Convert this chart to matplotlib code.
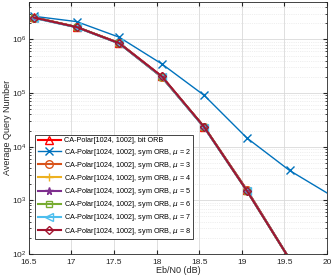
import numpy as np
import matplotlib
matplotlib.use("Agg")
from matplotlib import pyplot as plt

# Eb/N0 points (dB)
ebn0 = [16.56, 17.06, 17.56, 18.06, 18.56, 19.06, 19.56, 20.06]

# average query number per scheme
bit_orb = [2.6e6, 1.7e6, 8.6e5, 2.05e5, 2.3e4, 1.55e3, 80]
sym_mu2 = [2.7e6, 2.15e6, 1.1e6, 3.5e5, 9.0e4, 1.45e4, 3.6e3, 1.2e3]
sym_mu3 = [2.55e6, 1.7e6, 8.5e5, 2.0e5, 2.3e4, 1.55e3, 80]
sym_mu4 = [2.55e6, 1.7e6, 8.5e5, 2.0e5, 2.3e4, 1.5e3, 80]
sym_mu5 = [2.55e6, 1.7e6, 8.5e5, 2.0e5, 2.3e4, 1.5e3, 80]
sym_mu6 = [2.55e6, 1.7e6, 8.5e5, 2.0e5, 2.3e4, 1.5e3, 80]
sym_mu7 = [2.5e6, 1.68e6, 8.4e5, 2.0e5, 2.25e4, 1.5e3, 80]
sym_mu8 = [2.55e6, 1.7e6, 8.5e5, 2.05e5, 2.3e4, 1.5e3, 80]

labels = [
    "CA-Polar[1024, 1002], bit ORB",
    r"CA-Polar[1024, 1002], sym ORB, $\mu$ = 2",
    r"CA-Polar[1024, 1002], sym ORB, $\mu$ = 3",
    r"CA-Polar[1024, 1002], sym ORB, $\mu$ = 4",
    r"CA-Polar[1024, 1002], sym ORB, $\mu$ = 5",
    r"CA-Polar[1024, 1002], sym ORB, $\mu$ = 6",
    r"CA-Polar[1024, 1002], sym ORB, $\mu$ = 7",
    r"CA-Polar[1024, 1002], sym ORB, $\mu$ = 8",
]

# MATLAB-like colours
styles = [
    (bit_orb, (1.0, 0.0, 0.0), "^", 1.5),
    (sym_mu2, (0.0, 0.447, 0.741), "x", 1.0),
    (sym_mu3, (0.85, 0.325, 0.098), "o", 1.5),
    (sym_mu4, (0.929, 0.694, 0.125), "+", 1.5),
    (sym_mu5, (0.494, 0.184, 0.556), "*", 1.5),
    (sym_mu6, (0.466, 0.674, 0.188), "s", 1.5),
    (sym_mu7, (0.301, 0.745, 0.933), "<", 1.5),
    (sym_mu8, (0.635, 0.078, 0.184), "D", 1.5),
]

plt.rcParams["font.family"] = ["Liberation Sans", "DejaVu Sans"]
plt.rcParams["mathtext.fontset"] = "dejavusans"

fig = plt.figure(figsize=(3.32, 2.79), dpi=100)
ax = fig.add_axes([0.087, 0.09, 0.898, 0.903])

for (vals, color, marker, lw), lab in zip(styles, labels):
    ms = 4.5 if marker in ("D", "s") else 5.5
    ax.plot(ebn0[:len(vals)], vals, color=color, marker=marker, lw=lw,
            markersize=ms, markerfacecolor="none", markeredgewidth=1.0,
            label=lab)

ax.set_yscale("log")
ax.set_xlim(16.5, 20)
ax.set_ylim(1e2, 5e6)
ax.set_xticks(np.arange(16.5, 20.01, 0.5))
ax.set_xticklabels(["16.5", "17", "17.5", "18", "18.5", "19", "19.5", "20"])

ax.grid(True, which="major", color="0.85", lw=0.6)
ax.grid(True, which="minor", color="0.88", lw=0.5, ls=":")
ax.tick_params(which="both", direction="in", labelsize=6, colors="0.15",
               top=True, right=True, pad=2)
ax.tick_params(axis="x", pad=3.5)
ax.tick_params(which="major", length=3)
ax.tick_params(which="minor", length=1.5)
for s in ax.spines.values():
    s.set_color("0.15")
    s.set_linewidth(0.6)

ax.set_xlabel("Eb/N0 (dB)", fontsize=6.5, color="0.15", labelpad=0.5)
ax.set_ylabel("Average Query Number", fontsize=6.5, color="0.15", labelpad=0)

leg = ax.legend(loc="lower left", bbox_to_anchor=(0.022, 0.06), fontsize=5.2,
                handlelength=3.2, labelspacing=0.3, borderpad=0.3,
                handletextpad=0.4, fancybox=False, framealpha=1,
                edgecolor="0.15", borderaxespad=0)
leg.get_frame().set_linewidth(0.6)

fig.savefig("out.png", dpi=100)
